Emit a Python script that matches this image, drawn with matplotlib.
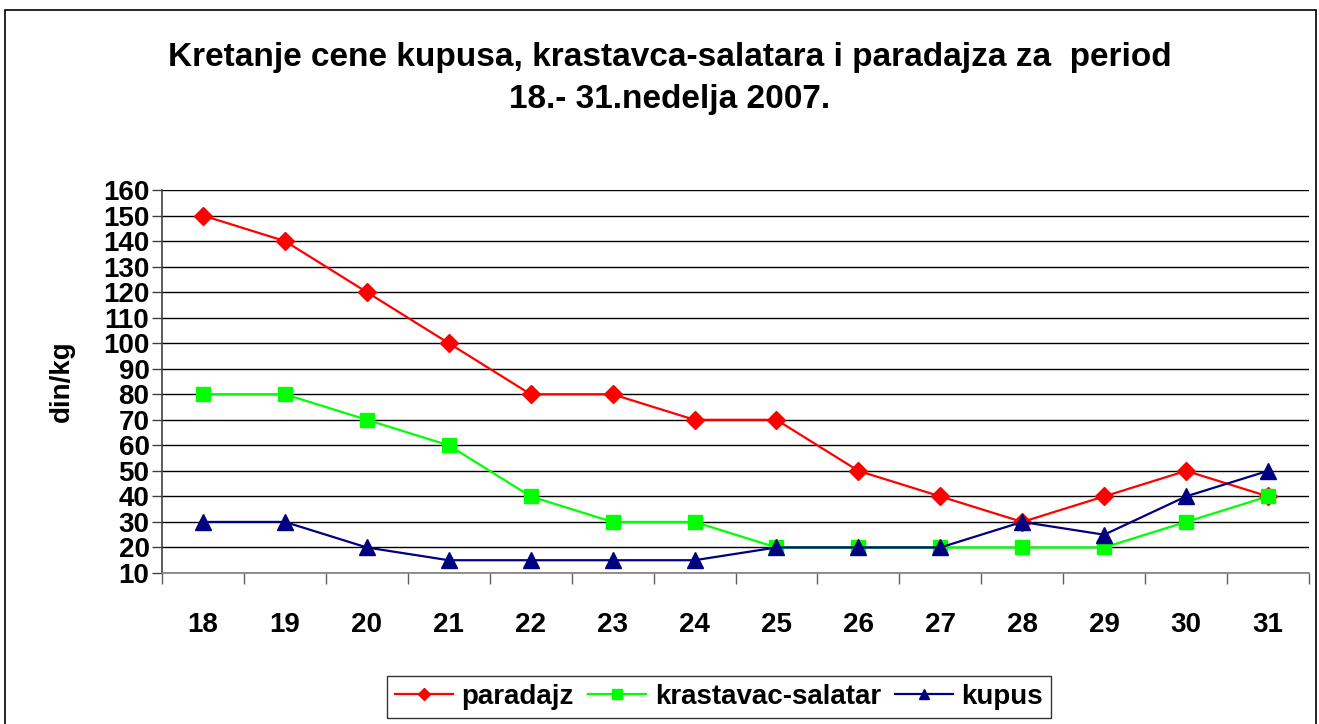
import numpy as np
import matplotlib.pyplot as plt
from matplotlib.patches import Rectangle

# =============================================================================
# Data (din/kg by week)
# =============================================================================

weeks = [18, 19, 20, 21, 22, 23, 24, 25, 26, 27, 28, 29, 30, 31]
paradajz = [150, 140, 120, 100, 80, 80, 70, 70, 50, 40, 30, 40, 50, 40]
krastavac = [80, 80, 70, 60, 40, 30, 30, 20, 20, 20, 20, 20, 30, 40]
kupus = [30, 30, 20, 15, 15, 15, 15, 20, 20, 20, 30, 25, 40, 50]

y_ticks = list(range(10, 161, 10))

title = ("Kretanje cene kupusa, krastavca-salatara i paradajza za  period\n"
         "18.- 31.nedelja 2007.")

plt.rcParams['font.family'] = ['Liberation Sans', 'DejaVu Sans']
plt.rcParams['font.weight'] = 'bold'

# =============================================================================
# Figure
# =============================================================================

fig = plt.figure(figsize=(13.19, 7.24), dpi=100)
ax = fig.add_axes([162 / 1319, 151 / 724, (1309 - 162) / 1319, (573 - 190) / 724])

# outer chart border
fig.patches.append(Rectangle((5 / 1319, -0.05), 1311 / 1319, (714 / 724) + 0.05,
                             transform=fig.transFigure, fill=False,
                             edgecolor='black', linewidth=1.2))

ax.plot(weeks, paradajz, color='#FF0000', lw=1.6, marker='D', ms=9.5,
        label='paradajz')
ax.plot(weeks, krastavac, color='#00FF00', lw=1.6, marker='s', ms=10,
        label='krastavac-salatar')
ax.plot(weeks, kupus, color='#000080', lw=1.6, marker='^', ms=11,
        label='kupus')

ax.set_xlim(17.5, 31.5)
ax.set_ylim(10, 160)

ax.set_yticks(y_ticks)
ax.set_yticklabels([str(v) for v in y_ticks], fontsize=20, fontweight='bold')
ax.tick_params(axis='y', direction='out', length=7, width=1, color='#404040', pad=2)

ax.set_xticks(weeks)
ax.set_xticklabels([str(w) for w in weeks], fontsize=20, fontweight='bold')
ax.set_xticks(np.arange(17.5, 32, 1), minor=True)
ax.tick_params(axis='x', which='major', length=0, pad=28)
ax.tick_params(axis='x', which='minor', direction='out', length=8, width=1,
               color='#606060')

ax.grid(axis='y', color='black', linewidth=1)
ax.set_axisbelow(True)

for s in ['top', 'right']:
    ax.spines[s].set_visible(False)
ax.spines['left'].set_color('#404040')
ax.spines['left'].set_linewidth(1.2)
ax.spines['bottom'].set_color('#808080')
ax.spines['bottom'].set_linewidth(1.2)

ax.set_ylabel('din/kg', fontsize=20, fontweight='bold', labelpad=20)

fig.text(0.508, 0.892, title, ha='center', va='center', fontsize=24,
         fontweight='bold', linespacing=1.45)

leg = fig.legend(loc='center', bbox_to_anchor=(719 / 1319, 1 - 697 / 724),
                 ncol=3, fontsize=20, frameon=True, fancybox=False,
                 edgecolor='black', handlelength=2.1, columnspacing=0.5,
                 handletextpad=0.3, borderpad=0.3, markerscale=0.65)
leg.get_frame().set_linewidth(1)

fig.savefig('out.png', dpi=100)
